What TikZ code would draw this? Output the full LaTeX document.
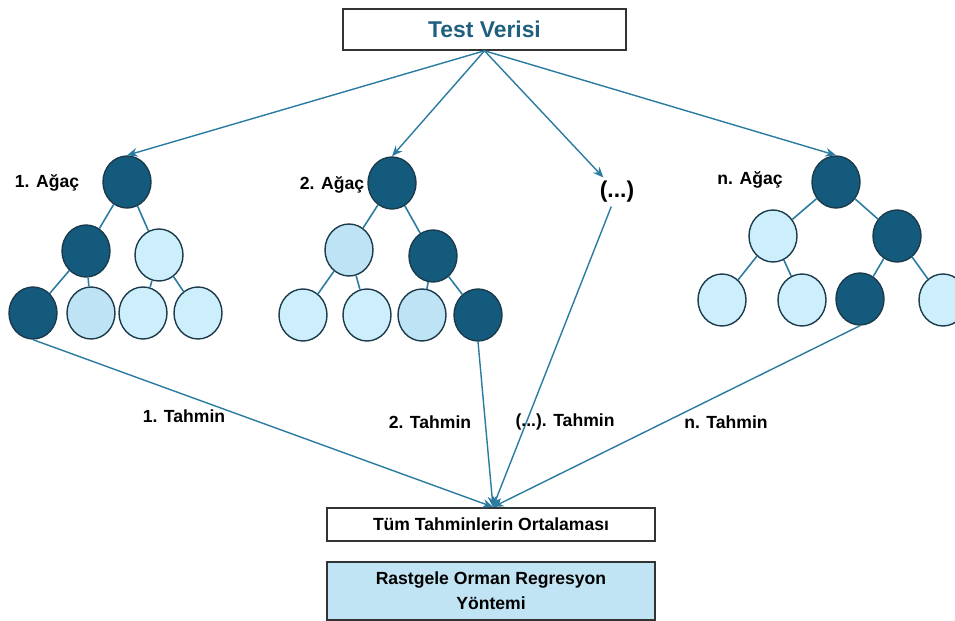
\documentclass[tikz,border=0pt]{standalone}
\usepackage{fontspec}
\setmainfont{Liberation Sans}
\usepackage{tikz}
\usetikzlibrary{shapes.geometric, arrows.meta, positioning}
\definecolor{treedark}{HTML}{145A7C}
\definecolor{treepale}{HTML}{CDEEFB}
\definecolor{treemid}{HTML}{BEE3F4}
\definecolor{edge}{HTML}{2B7BA1}
\definecolor{rim}{HTML}{1B3A4B}
\definecolor{titleblue}{HTML}{1F5F7F}
\definecolor{boxfill}{HTML}{C0E4F4}

\begin{document}
\begin{tikzpicture}[
  tnode/.style={ellipse, draw=rim, line width=0.8pt, minimum width=0.96cm, minimum height=1.04cm, inner sep=0pt},
  darkleaf/.style={tnode, fill=treedark},
  paleleaf/.style={tnode, fill=treepale},
  midleaf/.style={tnode, fill=treemid},
  branch/.style={draw=edge, line width=0.9pt},
  flow/.style={draw=edge, line width=0.8pt, -{Stealth[length=6pt,width=5pt]}},
  lbl/.style={font=\fontsize{10}{12}\selectfont\bfseries},
  box/.style={draw=black!80, line width=0.9pt, minimum width=6.56cm, align=center}
]
\useasboundingbox (0,0) rectangle (19.1,-12.42);
% Top box
\node[box, minimum width=5.66cm, minimum height=0.82cm, font=\fontsize{13}{15}\selectfont\bfseries, text=titleblue] (test) at (9.69,-0.59) {Test Verisi};
%
% Tree 1
\node[darkleaf] (r1) at (2.54,-3.64) {};
\node[darkleaf] (a1) at (1.72,-5.02) {};
\node[paleleaf] (b1) at (3.18,-5.10) {};
\node[darkleaf] (c1) at (0.66,-6.26) {};
\node[midleaf] (d1) at (1.82,-6.26) {};
\node[paleleaf] (e1) at (2.86,-6.26) {};
\node[paleleaf] (f1) at (3.96,-6.26) {};
\node[lbl] (t1) at (0.94,-3.66) {1. Ağaç};
\draw[branch] (r1) -- (a1);
\draw[branch] (r1) -- (b1);
\draw[branch] (a1) -- (c1);
\draw[branch] (a1) -- (d1);
\draw[branch] (b1) -- (e1);
\draw[branch] (b1) -- (f1);
%
% Tree 2
\node[darkleaf] (r2) at (7.84,-3.66) {};
\node[midleaf] (a2) at (6.98,-5.00) {};
\node[darkleaf] (b2) at (8.66,-5.12) {};
\node[paleleaf] (c2) at (6.06,-6.30) {};
\node[paleleaf] (d2) at (7.34,-6.30) {};
\node[midleaf] (e2) at (8.44,-6.30) {};
\node[darkleaf] (f2) at (9.56,-6.30) {};
\node[lbl] (t2) at (6.64,-3.70) {2. Ağaç};
\draw[branch] (r2) -- (a2);
\draw[branch] (r2) -- (b2);
\draw[branch] (a2) -- (c2);
\draw[branch] (a2) -- (d2);
\draw[branch] (b2) -- (e2);
\draw[branch] (b2) -- (f2);
%
% Tree n
\node[darkleaf] (rn) at (16.72,-3.64) {};
\node[paleleaf] (an) at (15.46,-4.72) {};
\node[darkleaf] (bn) at (17.94,-4.72) {};
\node[paleleaf] (cn) at (14.44,-6.00) {};
\node[paleleaf] (dn) at (16.04,-6.00) {};
\node[darkleaf] (en) at (17.20,-5.98) {};
\node[paleleaf] (fn) at (18.86,-6.00) {};
\node[lbl] (tn) at (15.00,-3.60) {n. Ağaç};
\draw[branch] (rn) -- (an);
\draw[branch] (rn) -- (bn);
\draw[branch] (an) -- (cn);
\draw[branch] (an) -- (dn);
\draw[branch] (bn) -- (en);
\draw[branch] (bn) -- (fn);
%
% Other trees
\node[font=\fontsize{13}{15}\selectfont\bfseries, inner sep=2pt] (dots) at (12.34,-3.84) {(...)};
%
% Bottom boxes
\node[box, minimum height=0.66cm, font=\fontsize{10}{12}\selectfont\bfseries] (avg) at (9.82,-10.49) {Tüm Tahminlerin Ortalaması};
\node[box, minimum height=1.16cm, fill=boxfill, font=\fontsize{10}{14}\selectfont\bfseries] (method) at (9.82,-11.82) {Rastgele Orman Regresyon\\Yöntemi};
%
% Test data to trees
\draw[flow] (test.south) -- (r1.north);
\draw[flow] (test.south) -- (r2.north);
\draw[flow] (test.south) -- (dots);
\draw[flow] (test.south) -- (rn.north);
%
% Predictions to average
\coordinate (meet) at (9.86,-10.14);
\draw[flow] (c1.south) -- (meet);
\draw[flow] (f2.south) -- (meet);
\draw[flow] (dots) -- (meet);
\draw[flow] (en.south) -- (meet);
\node[lbl] (p1) at (3.68,-8.32) {1. Tahmin};
\node[lbl] (p2) at (8.60,-8.44) {2. Tahmin};
\node[lbl] (pd) at (11.30,-8.44) {(...). Tahmin};
\node[lbl] (pn) at (14.52,-8.44) {n. Tahmin};
\end{tikzpicture}
\end{document}
